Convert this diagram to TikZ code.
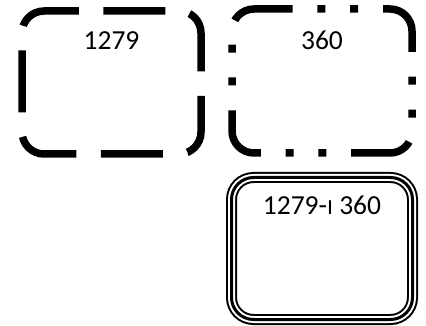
\documentclass[tikz,border=0pt]{standalone}
\usepackage{fontspec}
\setmainfont{Carlito}
\newfontfamily\hebfont[Script=Hebrew]{Liberation Sans}
\TeXXeTstate=1
\usepackage{tikz}
\usetikzlibrary{positioning}

\begin{document}
\begin{tikzpicture}[
    x=1pt, y=1pt,
    numfont/.style={font=\fontsize{27.5}{33}\selectfont},
    box/.style={rounded corners=22pt, inner sep=0pt},
    longdash/.style={box, draw, line width=7.5pt, dash pattern=on 62pt off 24.6pt, dash phase=73pt},
    dashdotdot/.style={box, draw, line width=7.5pt,
                       dash pattern=on 62pt off 24.8pt on 8pt off 24.8pt on 8pt off 24.8pt, dash phase=55pt},
    tripleline/.style={box, draw, line width=11pt,
                       postaction={draw=white, line width=7pt},
                       postaction={draw=black, line width=3pt}},
    boxtext/.style={numfont, anchor=base, inner sep=0pt}
]
\useasboundingbox (0,0) rectangle (426,-326);

\node[longdash, minimum width=179pt, minimum height=143pt] (firstbox) at (111.5,-82.5) {};
\node[dashdotdot, minimum width=180pt, minimum height=144pt] (secondbox) at (322,-81) {};
\node[tripleline, minimum width=181pt, minimum height=142pt] (bothbox) at (322,-248.5) {};

\node[boxtext] (firsttext) at ([yshift=-42.5pt]firstbox.north) {1279};
\node[boxtext] (secondtext) at ([yshift=-44pt]secondbox.north) {360};
\node[boxtext] (bothtext) at ([yshift=-42.5pt]bothbox.north)
    {1279-{\hebfont\fontsize{23}{27}\selectfont\beginR ו\endR} 360};
\end{tikzpicture}
\end{document}
